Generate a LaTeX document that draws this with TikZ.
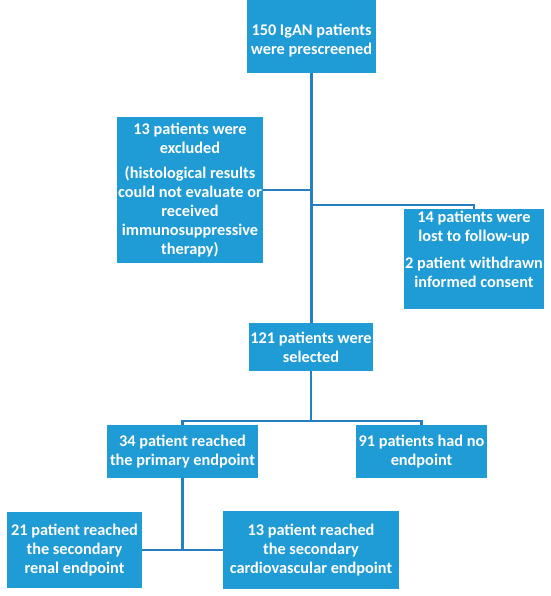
\documentclass[tikz,border=0pt]{standalone}
\usepackage{fontspec}
\setmainfont{Carlito}
\usetikzlibrary{positioning}

\definecolor{boxblue}{RGB}{31,155,214}
\definecolor{lineblue}{RGB}{38,127,192}

\begin{document}
\begin{tikzpicture}[x=1pt,y=-1pt]
\tikzstyle{stage}=[rectangle,fill=boxblue,text=white,inner sep=1pt,align=center,
font=\bfseries\fontsize{16.3}{19}\selectfont]
\tikzstyle{link}=[draw=lineblue,line width=2.2pt]

\useasboundingbox (0,0) rectangle (550,596);

\node[stage,minimum width=129pt,minimum height=73pt] (prescreened) at (311.5,36.5)
{\rule{0pt}{20pt}150 IgAN patients\\were prescreened};
\node[stage,minimum width=144pt,minimum height=146pt] (excluded) at (190,190)
{13 patients were\\excluded\\[6pt](histological results\\could not evaluate or\\received\\immunosuppressive\\therapy)};
\node[stage,minimum width=139pt,minimum height=100pt] (lost) at (474,259)
{14 patients were\\lost to follow-up\\[8pt]2 patient withdrawn\\informed consent\rule[-19pt]{0pt}{19pt}};
\node[stage,minimum width=124pt,minimum height=48pt] (selected) at (311,347)
{121 patients were\\selected};
\node[stage,minimum width=151pt,minimum height=53pt] (primary) at (182.5,451.5)
{34 patient reached\\the primary endpoint};
\node[stage,minimum width=131pt,minimum height=53pt] (no endpoint) at (421.5,451.5)
{91 patients had no\\endpoint};
\node[stage,minimum width=135pt,minimum height=76pt] (renal) at (74.5,550)
{21 patient reached\\the secondary\\renal endpoint};
\node[stage,minimum width=176pt,minimum height=78pt] (cardio) at (311,550)
{13 patient reached\\the secondary\\cardiovascular endpoint};

\coordinate (lost branch) at (311,205);
\coordinate (split) at (311,421);

\draw[link] (prescreened.south) -- (prescreened.south |- selected.north);
\draw[link] (excluded.east) -- (excluded.east -| prescreened.south);
\draw[link] (lost branch) -| (lost.north);
\draw[link] (selected.south) -- (split);
\draw[link] (primary.north) |- (split) -| (no endpoint.north);
\draw[link] (primary.south) -- (primary.south |- renal.east);
\draw[link] (renal.east) -- (cardio.west);
\end{tikzpicture}
\end{document}
